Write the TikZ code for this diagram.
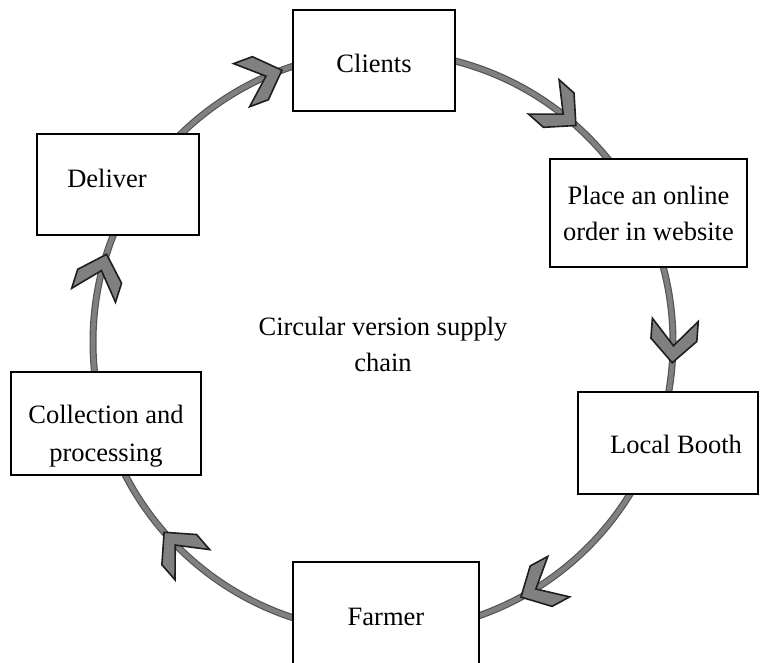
\documentclass[tikz,border=0pt]{standalone}
\usepackage{fontspec}
\setmainfont{Liberation Serif}
\definecolor{ringedge}{HTML}{555555}
\definecolor{ringfill}{HTML}{808080}
\definecolor{chevfill}{HTML}{808080}
\definecolor{chevedge}{HTML}{1E1E1E}
\begin{document}
\begin{tikzpicture}[x=1pt,y=1pt,
  box/.style={draw=black, line width=1.5pt, fill=white, rectangle, inner sep=0pt,
    align=center, font=\fontsize{26.5}{36}\selectfont},
  lbl/.style={inner sep=0pt, align=center, font=\fontsize{26.5}{36}\selectfont},
  ringout/.style={draw=ringedge, line width=7pt},
  ringin/.style={draw=ringfill, line width=4.6pt},
  chev/.style={fill=chevfill, draw=chevedge, line width=1.6pt, line join=miter}]
\useasboundingbox (0,0) rectangle (760,662);
\coordinate (O) at (383,320);
\draw[ringout] (O) circle[radius=290];
\draw[ringin] (O) circle[radius=290];
\foreach \a in {110.4,48.3,-4.1,-61.6,-139,162.4}{
  \begin{scope}[shift={(O)}, rotate=\a]
    \filldraw[chev] (290,0) -- (313,23) -- (313,43) -- (290,17) -- (267,43) -- (267,23) -- cycle;
  \end{scope}
}
\node[box, minimum width=162pt, minimum height=101pt] (clients) at (374,601.5) {};
\node[lbl] (clientstxt) at (374,599) {Clients};
\node[box, minimum width=197pt, minimum height=108pt] (order) at (648.5,449) {Place an online\\order in website};
\node[box, minimum width=180pt, minimum height=102pt] (booth) at (668,219) {};
\node[lbl] (boothtxt) at (676,218) {Local Booth};
\node[box, minimum width=186pt, minimum height=103pt] (farmer) at (386,48.5) {};
\node[lbl] (farmertxt) at (386,45) {Farmer};
\node[box, minimum width=190pt, minimum height=103pt] (collect) at (106,238.5) {};
\node[lbl, font=\fontsize{26.5}{38}\selectfont] (collecttxt) at (106,226) {Collection and\\processing};
\node[box, minimum width=162pt, minimum height=101pt] (deliver) at (118,477.5) {};
\node[lbl] (delivertxt) at (107,484) {Deliver};
\node[lbl] (center) at (383,318) {Circular version supply\\chain};
\end{tikzpicture}
\end{document}
